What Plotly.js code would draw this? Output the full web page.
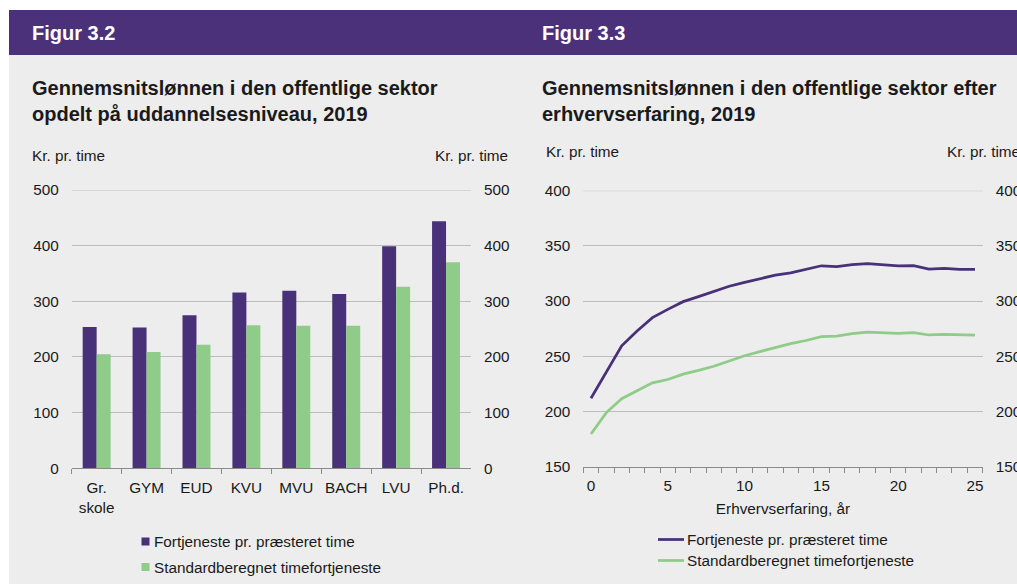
<!DOCTYPE html>
<html>
<head>
<meta charset="utf-8">
<script src="https://cdn.plot.ly/plotly-3.0.1.min.js"></script>
<style>
html,body{margin:0;padding:0;background:#fff;}
#chart{width:1017px;height:584px;}
</style>
</head>
<body>
<div id="chart"></div>
<script>
// ---------- DATA ----------
const uddannelse = ['Gr.<br>skole', 'GYM', 'EUD', 'KVU', 'MVU', 'BACH', 'LVU', 'Ph.d.'];
const fortjenesteUdd = [254, 253, 275, 316, 319, 313, 399, 444];
const standardUdd = [205, 209, 222, 257, 256, 256, 326, 370];

const erfaring = [0, 1, 2, 3, 4, 5, 6, 7, 8, 9, 10, 11, 12, 13, 14, 15, 16, 17, 18, 19, 20, 21, 22, 23, 24, 25];
const fortjenesteErf = [212, 236, 259.5, 273, 285, 292.5, 299.5, 304, 308.5, 313.5, 317, 320.5, 323.5, 325.5, 328.5, 332, 331.2, 333, 334, 333, 331.8, 332.2, 329, 329.7, 328.8, 328.8];
const standardErf = [179.6, 199, 211.6, 218.8, 226, 229, 233.8, 237.3, 241, 245.8, 250.5, 254.3, 258, 261.5, 264.3, 267.8, 268.2, 270.6, 271.8, 271.2, 270.8, 271.5, 269.3, 269.8, 269.2, 269.2];

const serieNavne = ['Fortjeneste pr. præsteret time', 'Standardberegnet timefortjeneste'];
const yTicksUdd = [0, 100, 200, 300, 400, 500];
const yTicksErf = [150, 200, 250, 300, 350, 400];
const xTicksErf = [0, 5, 10, 15, 20, 25];

// ---------- STYLE ----------
const W = 1017, H = 584;
const fx = p => p / W;
const fy = p => 1 - p / H;
const PURPLE = '#483178';
const GREEN = '#8fcb89';
const HEAD = '#4a317a';
const BG = '#ededed';
const GRID = '#bdbdbd';
const AXIS = '#8a8a8a';
const TXT = '#1a1a1a';
const FONT = 'Liberation Sans, Arial, sans-serif';

const traces = [
  {type: 'bar', x: uddannelse, y: fortjenesteUdd, name: serieNavne[0], marker: {color: PURPLE}, xaxis: 'x', yaxis: 'y', showlegend: false, hoverinfo: 'skip'},
  {type: 'bar', x: uddannelse, y: standardUdd, name: serieNavne[1], marker: {color: GREEN}, xaxis: 'x', yaxis: 'y', showlegend: false, hoverinfo: 'skip'},
  {type: 'scatter', mode: 'lines', x: erfaring, y: fortjenesteErf, name: serieNavne[0], line: {color: PURPLE, width: 2.75}, xaxis: 'x2', yaxis: 'y2', showlegend: false, hoverinfo: 'skip'},
  {type: 'scatter', mode: 'lines', x: erfaring, y: standardErf, name: serieNavne[1], line: {color: GREEN, width: 2.75}, xaxis: 'x2', yaxis: 'y2', showlegend: false, hoverinfo: 'skip'},
  // invisible carriers so the right-hand duplicate axes get drawn
  {type: 'scatter', mode: 'markers', x: uddannelse, y: fortjenesteUdd, marker: {opacity: 0}, xaxis: 'x', yaxis: 'y3', showlegend: false, hoverinfo: 'skip'},
  {type: 'scatter', mode: 'markers', x: erfaring, y: fortjenesteErf, marker: {opacity: 0}, xaxis: 'x2', yaxis: 'y4', showlegend: false, hoverinfo: 'skip'}
];

const tickFont = {family: FONT, size: 15.3, color: TXT};

const yCommon = {
  showgrid: true, gridcolor: GRID, gridwidth: 1, zeroline: false, showline: false,
  ticks: '', tickfont: tickFont, ticklabelstandoff: 12, fixedrange: true
};
const yRight = {
  side: 'right', showgrid: false, zeroline: false, showline: false, ticks: '',
  tickfont: tickFont, ticklabelstandoff: 12, fixedrange: true
};

const layout = {
  width: W, height: H,
  margin: {l: 0, r: 0, t: 0, b: 0, pad: 0},
  paper_bgcolor: '#ffffff',
  plot_bgcolor: 'rgba(0,0,0,0)',
  font: {family: FONT, size: 15.3, color: TXT},
  barmode: 'group', bargap: 0.44, bargroupgap: 0,
  xaxis: {
    domain: [fx(71.7), fx(471)], anchor: 'y', type: 'category',
    showline: true, linecolor: AXIS, linewidth: 1, tickangle: 0,
    ticks: 'outside', tickson: 'boundaries', ticklen: 5, tickcolor: AXIS, tickwidth: 1,
    showgrid: false, tickfont: tickFont, ticklabelstandoff: 5, fixedrange: true
  },
  yaxis: Object.assign({}, yCommon, {
    domain: [fy(468.3), fy(190)], anchor: 'x', range: [0, 500], tickvals: yTicksUdd
  }),
  yaxis3: Object.assign({}, yRight, {overlaying: 'y', anchor: 'x', range: [0, 500], tickvals: yTicksUdd}),
  xaxis2: {
    domain: [fx(583.3), fx(982.7)], anchor: 'y2', range: [-0.5, 25.5],
    showline: true, linecolor: AXIS, linewidth: 1, tickangle: 0,
    tickvals: xTicksErf, ticks: 'outside', ticklen: 5, tickcolor: 'rgba(0,0,0,0)',
    minor: {tick0: -0.5, dtick: 1, ticks: 'outside', ticklen: 5, tickcolor: AXIS, tickwidth: 1, showgrid: false},
    showgrid: false, zeroline: false, tickfont: tickFont, ticklabelstandoff: 0, fixedrange: true,
    title: {text: 'Erhvervserfaring, år', font: {family: FONT, size: 15.3, color: TXT}, standoff: 10}
  },
  yaxis2: Object.assign({}, yCommon, {
    domain: [fy(466.7), fy(190.7)], anchor: 'x2', range: [150, 400], tickvals: yTicksErf
  }),
  yaxis4: Object.assign({}, yRight, {overlaying: 'y2', anchor: 'x2', range: [150, 400], tickvals: yTicksErf}),
  shapes: [
    {type: 'rect', xref: 'paper', yref: 'paper', x0: fx(9), x1: fx(1017), y0: fy(55), y1: fy(584), fillcolor: BG, line: {width: 0}, layer: 'below'},
    {type: 'rect', xref: 'paper', yref: 'paper', x0: fx(9), x1: fx(1017), y0: fy(10), y1: fy(55), fillcolor: HEAD, line: {width: 0}, layer: 'below'},
    // top gridlines (Plotly drops grid lines at the range edge)
    {type: 'line', xref: 'x domain', yref: 'y', x0: 0, x1: 1, y0: yTicksUdd[yTicksUdd.length - 1], y1: yTicksUdd[yTicksUdd.length - 1], line: {color: GRID, width: 1}, layer: 'below'},
    {type: 'line', xref: 'x2 domain', yref: 'y2', x0: 0, x1: 1, y0: yTicksErf[yTicksErf.length - 1], y1: yTicksErf[yTicksErf.length - 1], line: {color: GRID, width: 1}, layer: 'below'},
    // bar legend swatches
    {type: 'rect', xref: 'paper', yref: 'paper', x0: fx(141.5), x1: fx(149.5), y0: fy(545.5), y1: fy(537.5), fillcolor: PURPLE, line: {width: 0}},
    {type: 'rect', xref: 'paper', yref: 'paper', x0: fx(141.5), x1: fx(149.5), y0: fy(571), y1: fy(563), fillcolor: GREEN, line: {width: 0}},
    // line legend swatches
    {type: 'line', xref: 'paper', yref: 'paper', x0: fx(658), x1: fx(684), y0: fy(539.5), y1: fy(539.5), line: {color: PURPLE, width: 2.75}},
    {type: 'line', xref: 'paper', yref: 'paper', x0: fx(658), x1: fx(684), y0: fy(560.5), y1: fy(560.5), line: {color: GREEN, width: 2.75}}
  ],
  annotations: [
    {text: '<b>Figur 3.2</b>', x: fx(30), y: fy(33), xref: 'paper', yref: 'paper', xanchor: 'left', yanchor: 'middle', showarrow: false, font: {family: FONT, size: 20, color: '#ffffff'}},
    {text: '<b>Figur 3.3</b>', x: fx(540), y: fy(33), xref: 'paper', yref: 'paper', xanchor: 'left', yanchor: 'middle', showarrow: false, font: {family: FONT, size: 20, color: '#ffffff'}},
    {text: '<b>Gennemsnitslønnen i den offentlige sektor<br>opdelt på uddannelsesniveau, 2019</b>', x: fx(30), y: fy(100.5), xref: 'paper', yref: 'paper', xanchor: 'left', yanchor: 'middle', align: 'left', showarrow: false, font: {family: FONT, size: 20, color: TXT}},
    {text: '<b>Gennemsnitslønnen i den offentlige sektor efter<br>erhvervserfaring, 2019</b>', x: fx(540), y: fy(100.5), xref: 'paper', yref: 'paper', xanchor: 'left', yanchor: 'middle', align: 'left', showarrow: false, font: {family: FONT, size: 20, color: TXT}},
    {text: 'Kr. pr. time', x: fx(30), y: fy(155), xref: 'paper', yref: 'paper', xanchor: 'left', yanchor: 'middle', showarrow: false, font: tickFont},
    {text: 'Kr. pr. time', x: fx(510), y: fy(155), xref: 'paper', yref: 'paper', xanchor: 'right', yanchor: 'middle', showarrow: false, font: tickFont},
    {text: 'Kr. pr. time', x: fx(544), y: fy(152), xref: 'paper', yref: 'paper', xanchor: 'left', yanchor: 'middle', showarrow: false, font: tickFont},
    {text: 'Kr. pr. time', x: fx(945), y: fy(152), xref: 'paper', yref: 'paper', xanchor: 'left', yanchor: 'middle', showarrow: false, font: tickFont},
    {text: serieNavne[0], x: fx(152), y: fy(541.5), xref: 'paper', yref: 'paper', xanchor: 'left', yanchor: 'middle', showarrow: false, font: tickFont},
    {text: serieNavne[1], x: fx(152), y: fy(567), xref: 'paper', yref: 'paper', xanchor: 'left', yanchor: 'middle', showarrow: false, font: tickFont},
    {text: serieNavne[0], x: fx(685), y: fy(539.5), xref: 'paper', yref: 'paper', xanchor: 'left', yanchor: 'middle', showarrow: false, font: tickFont},
    {text: serieNavne[1], x: fx(685), y: fy(560.5), xref: 'paper', yref: 'paper', xanchor: 'left', yanchor: 'middle', showarrow: false, font: tickFont}
  ]
};

Plotly.newPlot('chart', traces, layout, {staticPlot: true, displayModeBar: false});
</script>
</body>
</html>
